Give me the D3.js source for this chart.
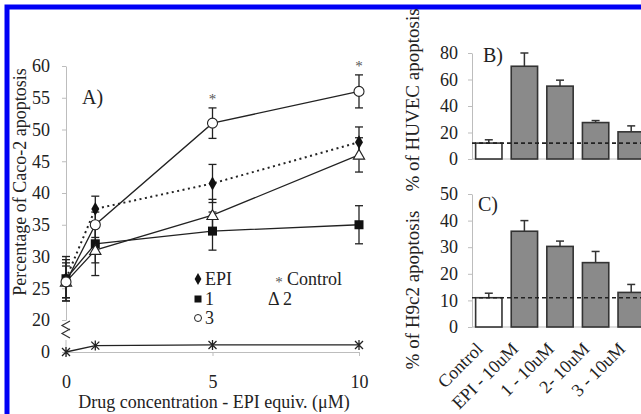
<!DOCTYPE html>
<html><head><meta charset="utf-8">
<script src="https://cdn.jsdelivr.net/npm/d3@7"></script>
<style>
body{margin:0;background:#fff;}
svg text{font-family:"Liberation Serif","Times New Roman",serif !important;fill:#222;}
</style></head>
<body>
<svg id="c" width="641" height="414"></svg>
<script>
// ---- Panel A data ----
const concentrations = [0, 1, 5, 10];
const epiValues   = [26.5, 37.5, 41.5, 48];
const epiErrors   = [3, 2, 3, 2.4];
const c1Values    = [26.5, 32, 34, 35];
const c1Errors    = [3.5, 3, 3, 3];
const c2Values    = [26, 31, 36.5, 46];
const c2Errors    = [3, 4, 2.5, 2.7];
const c3Values    = [26, 35, 51, 56];
const c3Errors    = [2.5, 2, 2.4, 2.6];
const controlValues = [0, 1, 1.1, 1.1];
const yTicksA = [20, 25, 30, 35, 40, 45, 50, 55, 60];
const xTicksA = [0, 5, 10];
const sigPoints = [5, 10];
const legendLabels = ["EPI", "1", "3", "Control", "2"];

// ---- Panels B / C data ----
const barCategories = ["Control", "EPI - 10uM", "1 - 10uM", "2- 10uM", "3 - 10uM"];
const huvecValues = [12, 70, 55, 27.5, 20.5];
const huvecErrors = [2.5, 10, 4.5, 1.5, 4.5];
const h9c2Values  = [11, 36, 30.3, 24.2, 13];
const h9c2Errors  = [1.7, 4, 2, 4.2, 3];
const yTicksB = [0, 20, 40, 60, 80];
const yTicksC = [0, 10, 20, 30, 40, 50];

const svg = d3.select("#c");
const ink = "#222", axisGray = "#bdbdbd";

// blue frame
svg.append("rect").attr("x",7).attr("y",7).attr("width",700).attr("height",500)
  .attr("fill","none").attr("stroke","#0000f5").attr("stroke-width",5);

// ===== Panel A =====
const x = d3.scaleLinear().domain([0,10]).range([66,359]);
const yU = d3.scaleLinear().domain([20,60]).range([320,66]);
const yL = d3.scaleLinear().domain([0,1]).range([352,345.6]);

function styleAxis(g){
  g.attr("font-family",null);
  g.select(".domain").attr("stroke",axisGray);
  g.selectAll(".tick line").attr("stroke",axisGray);
  g.selectAll(".tick text").attr("font-size","18px").attr("fill","#222");
}
svg.append("g").attr("transform","translate(66,0)")
  .call(d3.axisLeft(yU).tickValues(yTicksA).tickSize(4).tickSizeOuter(0).tickPadding(12))
  .call(styleAxis);
svg.append("g").attr("transform","translate(66,0)")
  .call(d3.axisLeft(yL).tickValues([0]).tickFormat(d3.format("d")).tickSize(4).tickSizeOuter(0).tickPadding(12))
  .call(styleAxis).select(".domain").remove();
svg.append("line").attr("x1",66).attr("x2",66).attr("y1",340).attr("y2",352).attr("stroke",axisGray);
svg.append("g").attr("transform","translate(0,352)")
  .call(d3.axisBottom(x).tickValues(xTicksA).tickSize(4).tickSizeOuter(0).tickPadding(19))
  .call(styleAxis);
// axis break symbol
svg.append("path").attr("d","M70,321 L62,325.5 L70,330 M70,329 L62,333.5 L70,338")
  .attr("fill","none").attr("stroke","#333").attr("stroke-width",1.2);

// axis titles
svg.append("text").attr("transform","translate(26,182) rotate(-90)").attr("text-anchor","middle")
  .attr("font-size","18px").text("Percentage of Caco-2 apoptosis");
svg.append("text").attr("x",214).attr("y",408).attr("text-anchor","middle")
  .attr("font-size","18px").text("Drug concentration - EPI equiv. (\u03BCM)");
svg.append("text").attr("x",82).attr("y",104).attr("font-size","20px").text("A)");

const seriesA = [
  {vals:epiValues, errs:epiErrors, dash:"2,3.5", sym:"diamond"},
  {vals:c1Values, errs:c1Errors, dash:null, sym:"square"},
  {vals:c2Values, errs:c2Errors, dash:null, sym:"triangle"},
  {vals:c3Values, errs:c3Errors, dash:null, sym:"circle"}
];
const lineA = d3.line().x(d=>x(d[0])).y(d=>yU(d[1]));
seriesA.forEach(s=>{
  const pts = concentrations.map((c,i)=>[c,s.vals[i]]);
  svg.append("path").attr("d",lineA(pts)).attr("fill","none").attr("stroke",ink)
    .attr("stroke-width",s.dash?2:1.3).attr("stroke-dasharray",s.dash);
});
// control line
const ctrlPts = concentrations.map((c,i)=>[c,controlValues[i]]);
svg.append("path").attr("d",d3.line().x(d=>x(d[0])).y(d=>yL(d[1]))(ctrlPts))
  .attr("fill","none").attr("stroke",ink).attr("stroke-width",1.3);

// error bars
seriesA.forEach(s=>{
  concentrations.forEach((c,i)=>{
    const cx=x(c), y1=yU(s.vals[i]-s.errs[i]), y2=yU(s.vals[i]+s.errs[i]);
    const g=svg.append("g").attr("stroke",ink).attr("stroke-width",1.3);
    g.append("line").attr("x1",cx).attr("x2",cx).attr("y1",y1).attr("y2",y2);
    g.append("line").attr("x1",cx-4).attr("x2",cx+4).attr("y1",y1).attr("y2",y1);
    g.append("line").attr("x1",cx-4).attr("x2",cx+4).attr("y1",y2).attr("y2",y2);
  });
});
// markers
function marker(g, type, cx, cy){
  if(type==="diamond") g.append("path").attr("d",d3.symbol(d3.symbolDiamond,55)()).attr("transform",`translate(${cx},${cy})`).attr("fill","#111");
  else if(type==="square") g.append("rect").attr("x",cx-4.5).attr("y",cy-4.5).attr("width",9).attr("height",9).attr("fill","#111");
  else if(type==="triangle") g.append("path").attr("d",d3.symbol(d3.symbolTriangle,55)()).attr("transform",`translate(${cx},${cy+1})`).attr("fill","#fff").attr("stroke",ink).attr("stroke-width",1.1);
  else if(type==="circle") g.append("circle").attr("cx",cx).attr("cy",cy).attr("r",5).attr("fill","#fff").attr("stroke",ink).attr("stroke-width",1.1);
  else if(type==="star") g.append("path").attr("d",`M${cx-4},${cy-4}L${cx+4},${cy+4}M${cx-4},${cy+4}L${cx+4},${cy-4}M${cx},${cy-5}L${cx},${cy+5}`).attr("stroke",ink).attr("stroke-width",1.3);
}
seriesA.forEach(s=>{
  concentrations.forEach((c,i)=>marker(svg, s.sym, x(c), yU(s.vals[i])));
});
concentrations.forEach((c,i)=>marker(svg,"star",x(c),yL(controlValues[i])));

// significance
sigPoints.forEach(p=>{
  const i=concentrations.indexOf(p);
  svg.append("text").attr("x",x(p)).attr("y",yU(c3Values[i]+c3Errors[i])-4)
    .attr("text-anchor","middle").attr("font-size","15px").style("fill","#555").text("*");
});

// legend
const legItems = [
  {sym:"diamond", label:legendLabels[0], x:198, y:279},
  {sym:"square", label:legendLabels[1], x:198, y:299},
  {sym:"circle", label:legendLabels[2], x:198, y:318},
  {sym:"ast", label:legendLabels[3], x:279, y:279},
  {sym:"delta", label:legendLabels[4], x:268, y:299}
];
legItems.forEach(l=>{
  if(l.sym==="diamond") svg.append("path").attr("d",d3.symbol(d3.symbolDiamond,40)()).attr("transform",`translate(${l.x},${l.y})`).attr("fill","#111");
  if(l.sym==="square") svg.append("rect").attr("x",l.x-3.5).attr("y",l.y-3.5).attr("width",7).attr("height",7).attr("fill","#111");
  if(l.sym==="circle") svg.append("circle").attr("cx",l.x).attr("cy",l.y).attr("r",3.5).attr("fill","#fff").attr("stroke",ink);
  if(l.sym==="ast"){ svg.append("text").attr("x",l.x).attr("y",l.y+8).attr("font-size","15px").attr("text-anchor","middle").style("fill","#555").text("*");
    svg.append("text").attr("x",l.x+8).attr("y",l.y+6).attr("font-size","18px").text(l.label); return; }
  if(l.sym==="delta"){ svg.append("text").attr("x",l.x).attr("y",l.y+6).attr("font-size","18px").text("\u0394 "+l.label); return; }
  svg.append("text").attr("x",l.x+7).attr("y",l.y+6).attr("font-size","18px").text(l.label);
});

// ===== Panels B and C =====
const xb = d3.scaleBand().domain(barCategories).range([471,649]).paddingInner(0.26).paddingOuter(0.13);
function barPanel(vals, errs, yScale, ticks, label, labelY, yTitle, titleY){
  const base = yScale(0);
  svg.append("g").attr("transform","translate(472,0)")
    .call(d3.axisLeft(yScale).tickValues(ticks).tickSize(4).tickSizeOuter(0).tickPadding(10))
    .call(styleAxis);
  svg.append("line").attr("x1",472).attr("x2",641).attr("y1",base).attr("y2",base).attr("stroke",axisGray);
  barCategories.forEach((c,i)=>{
    const bx=xb(c), bw=xb.bandwidth(), top=yScale(vals[i]), cx=bx+bw/2, et=yScale(vals[i]+errs[i]);
    const g=svg.append("g").attr("stroke","#333").attr("stroke-width",1.5);
    g.append("line").attr("x1",cx).attr("x2",cx).attr("y1",top).attr("y2",et);
    g.append("line").attr("x1",cx-4).attr("x2",cx+4).attr("y1",et).attr("y2",et);
    svg.append("rect").attr("x",bx).attr("y",top).attr("width",bw).attr("height",base-top)
      .attr("fill",i===0?"#fff":"#8a8a8a").attr("stroke","#333").attr("stroke-width",1.6);
  });
  svg.append("line").attr("x1",472).attr("x2",641).attr("y1",yScale(vals[0])).attr("y2",yScale(vals[0]))
    .attr("stroke","#222").attr("stroke-width",1.6).attr("stroke-dasharray","4,3");
  svg.append("text").attr("x",label[1]).attr("y",labelY).attr("font-size","20px").text(label[0]);
  svg.append("text").attr("transform",`translate(419,${titleY}) rotate(-90)`).attr("text-anchor","middle")
    .attr("font-size","19px").text(yTitle);
}
const yB = d3.scaleLinear().domain([0,80]).range([159,53]);
const yC = d3.scaleLinear().domain([0,50]).range([327,194]);
barPanel(huvecValues, huvecErrors, yB, yTicksB, ["B)",483], 62, "% of HUVEC apoptosis", 100);
barPanel(h9c2Values, h9c2Errors, yC, yTicksC, ["C)",478], 211, "% of H9c2 apoptosis", 290);

// category labels
barCategories.forEach(c=>{
  const cx = xb(c)+xb.bandwidth()/2-5;
  svg.append("text").attr("transform",`translate(${cx},350) rotate(-45)`).attr("text-anchor","end")
    .attr("font-size","18px").text(c);
});
</script>
</body></html>
